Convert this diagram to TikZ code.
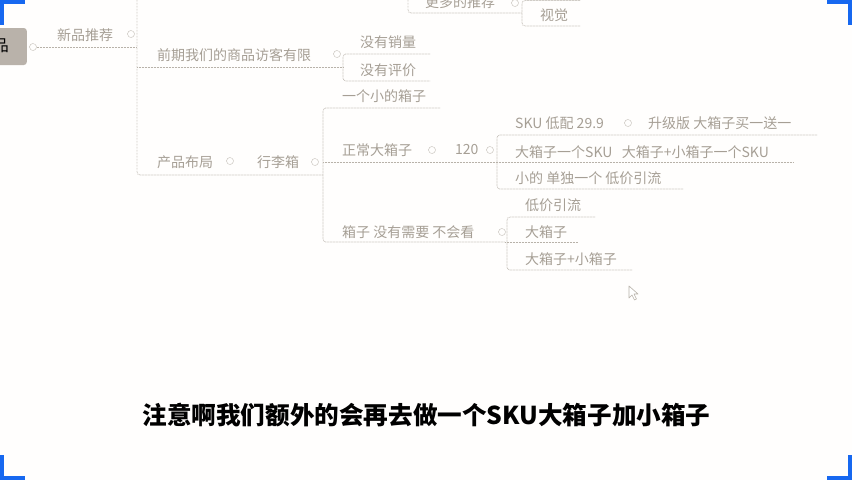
\documentclass[tikz,border=0pt]{standalone}
\usepackage{fontspec}
\newfontfamily\cjk{Noto Sans CJK SC}
\definecolor{bgc}{HTML}{FFFEFD}
\definecolor{txc}{HTML}{A69F95}
\definecolor{lnc}{HTML}{B8B2A9}
\definecolor{nodefill}{HTML}{B9B2AA}
\definecolor{cblue}{HTML}{1768F0}
\tikzset{
  lbl/.style={font=\cjk\fontsize{14}{14}\selectfont, text=txc, inner sep=0pt, anchor=west},
  conn/.style={draw=lnc, line width=0.7pt, dash pattern=on 0.7pt off 0.8pt, rounded corners=3pt},
  icon/.style={circle, draw=lnc, line width=0.5pt, dash pattern=on 0.6pt off 0.5pt, minimum size=7pt, inner sep=0pt},
  cornerbar/.style={fill=cblue, draw=none},
}
\begin{document}
\begin{tikzpicture}[x=1pt,y=-1pt]
\useasboundingbox (0,0) rectangle (852,480);
\clip (0,0) rectangle (852,480);
\fill[bgc] (0,0) rectangle (852,480);

% left root node (partly off-picture)
\node[draw=none, fill=nodefill, rounded corners=3pt, minimum width=60pt, minimum height=37pt, anchor=east, inner sep=0pt] (root) at (27,46.5) {};
\node[font=\cjk\fontsize{16}{16}\selectfont, text=black, inner sep=0pt] (roottxt) at (1,46) {品};

% labels
\node[lbl] (gengduo) at (425,2) {更多的推荐};
\node[lbl] (shijue) at (540,15) {视觉};
\node[lbl] (xinpin) at (57,35) {新品推荐};
\node[lbl] (qianqi) at (157,55) {前期我们的商品访客有限};
\node[lbl] (xiaoliang) at (360,42) {没有销量};
\node[lbl] (pingjia) at (360,70) {没有评价};
\node[lbl] (yigexiao) at (342,96) {一个小的箱子};
\node[lbl] (buju) at (157,162) {产品布局};
\node[lbl] (xinglixiang) at (257,162) {行李箱};
\node[lbl] (zhengchang) at (342,150) {正常大箱子};
\node[lbl] (yierling) at (455,150) {120};
\node[lbl] (sku) at (515,123) {SKU\ 低配\ 29.9};
\node[lbl] (shengji) at (648,123) {升级版\ 大箱子买一送一};
\node[lbl] (dasku) at (515,152) {大箱子一个SKU\ \ \ 大箱子+小箱子一个SKU};
\node[lbl] (xiaode) at (515,178) {小的\ 单独一个\ 低价引流};
\node[lbl] (xiangzi) at (342,232) {箱子\ 没有需要\ 不会看};
\node[lbl] (dijia) at (525,205) {低价引流};
\node[lbl] (daxiang) at (525,232) {大箱子};
\node[lbl] (dajiaxiao) at (525,259) {大箱子+小箱子};

% collapse icons
\node[icon] (i0) at (33,47) {};
\node[icon] (i1) at (131,34) {};
\node[icon] (i2) at (337,54) {};
\node[icon] (i3) at (515,3) {};
\node[icon] (i4) at (230,161) {};
\node[icon] (i5) at (315,162) {};
\node[icon] (i6) at (432,150) {};
\node[icon] (i7) at (490,150) {};
\node[icon] (i8) at (628,123) {};
\node[icon] (i9) at (502,232) {};

% connector coordinates
\coordinate (a0) at (137,0);
\coordinate (a1) at (137,175);
\coordinate (a2) at (323,175);
\coordinate (b0) at (408,0);
\coordinate (b1) at (408,13);
\coordinate (b2) at (522,13);
\coordinate (c0) at (580,0.5);
\coordinate (c1) at (522,0.5);
\coordinate (c2) at (522,26);
\coordinate (c3) at (580,26);
\coordinate (d0) at (430,54);
\coordinate (d1) at (343,54);
\coordinate (d2) at (343,81);
\coordinate (d3) at (430,81);
\coordinate (e0) at (440,108);
\coordinate (e1) at (323,108);
\coordinate (e2) at (323,242);
\coordinate (e3) at (505,242);
\coordinate (f0) at (817,135);
\coordinate (f1) at (497,135);
\coordinate (f2) at (497,189);
\coordinate (f3) at (683,189);
\coordinate (g0) at (595,217);
\coordinate (g1) at (507,217);
\coordinate (g2) at (507,270);
\coordinate (g3) at (632,270);

% connectors
\draw[conn] (i0.east |- 0,47) -- (137,47);
\draw[conn] (a0) -- (a1) -- (a2);
\draw[conn] (137,67) -- (d1 |- 0,67);
\draw[conn] (b0) -- (b1) -- (b2);
\draw[conn] (c0) -- (c1) -- (c2) -- (c3);
\draw[conn] (d0) -- (d1) -- (d2) -- (d3);
\draw[conn] (e0) -- (e1) -- (e2) -- (e3);
\draw[conn] (323,162) -- (793,162);
\draw[conn] (f0) -- (f1) -- (f2) -- (f3);
\draw[conn] (505,242) -- (578,242);
\draw[conn] (g0) -- (g1) -- (g2) -- (g3);

% mouse cursor
\draw[lnc, fill=white, line width=0.6pt, line join=round] (629,286) -- (629,298) -- (632,295) -- (634.5,300) -- (636.5,299) -- (634,294) -- (638,294) -- cycle;

% subtitle
\node[font=\cjk\bfseries\fontsize{24.6}{25}\selectfont, text=black, inner sep=0pt] (subtitle) at (426.5,415) {注意啊我们额外的会再去做一个SKU大箱子加小箱子};

% blue corner brackets
\fill[cornerbar] (0,0) rectangle (25,4);
\fill[cornerbar] (0,0) rectangle (4,25);
\fill[cornerbar] (827,0) rectangle (852,4);
\fill[cornerbar] (848,0) rectangle (852,25);
\fill[cornerbar] (0,455) rectangle (4,480);
\fill[cornerbar] (0,476) rectangle (25,480);
\fill[cornerbar] (848,455) rectangle (852,480);
\fill[cornerbar] (827,476) rectangle (852,480);
\end{tikzpicture}
\end{document}
